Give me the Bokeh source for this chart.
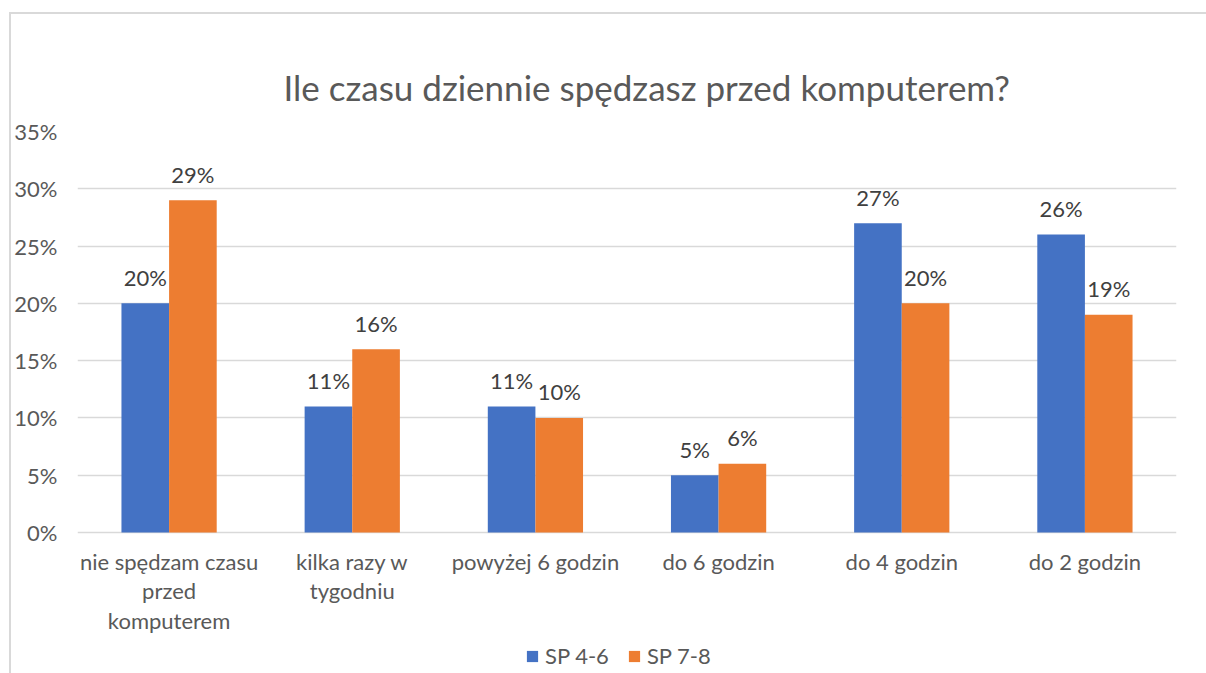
from bokeh.plotting import figure
from bokeh.models import ColumnDataSource, FactorRange, Range1d, FixedTicker, PrintfTickFormatter, LabelSet, Legend, LegendItem, InlineStyleSheet
from bokeh.core.properties import value
from bokeh.transform import dodge
from bokeh.embed import file_html
from bokeh.resources import INLINE

categories = ["nie spędzam czasu\nprzed\nkomputerem", "kilka razy w\ntygodniu", "powyżej 6 godzin",
              "do 6 godzin", "do 4 godzin", "do 2 godzin"]
sp46 = [20, 11, 11, 5, 27, 26]
sp78 = [29, 16, 10, 6, 20, 19]
series_names = ["SP 4-6", "SP 7-8"]
y_ticks = [0, 5, 10, 15, 20, 25, 30, 35]

FONT = "Lato"
BLUE = "#4472C4"
ORANGE = "#ED7D31"

src = ColumnDataSource(dict(
    cat=categories, a=sp46, b=sp78,
    a_lbl=[f"{v}%" for v in sp46], b_lbl=[f"{v}%" for v in sp78],
    lbl_y=[0] * len(categories),
))

# frame extends below the zero line so that category labels and legend live inside it
PX_PER_UNIT = 401 / 35.0
y_bottom = -542 / PX_PER_UNIT + 35

p = figure(x_range=FactorRange(*categories), y_range=Range1d(y_bottom, 35),
           frame_width=1099, frame_height=542, output_backend="svg", toolbar_location=None,
           min_border_left=77, min_border_right=14, min_border_top=131, min_border_bottom=0,
           title="Ile czasu dziennie spędzasz przed komputerem?")
p.outline_line_color = None
p.stylesheets = [InlineStyleSheet(css=(
    ":host::after { content: ''; position: absolute; left: 9px; top: 12px; "
    "right: -40px; bottom: -40px; border-left: 2px solid #d9d9d9; "
    "border-top: 2px solid #d9d9d9; pointer-events: none; z-index: 5; }"
))]

p.title.text_font = FONT
p.title.text_font_size = "35px"
p.title.text_font_style = "normal"
p.title.text_color = "#595959"
p.title.align = "left"
p.title.offset = 206
p.title.standoff = 48

r1 = p.vbar(x=dodge("cat", -0.13, range=p.x_range), top="a", width=0.26, source=src,
            fill_color=BLUE, line_color=None)
r2 = p.vbar(x=dodge("cat", 0.13, range=p.x_range), top="b", width=0.26, source=src,
            fill_color=ORANGE, line_color=None)

for col, off in (("a", -0.13), ("b", 0.13)):
    ls = LabelSet(x=dodge("cat", off, range=p.x_range), y=col, text=col + "_lbl", source=src,
                  text_align="center", text_baseline="middle", y_offset=26,
                  text_font=value(FONT), text_font_size="22px", text_color="#404040")
    p.add_layout(ls)

# category labels under the zero line
p.text(x="cat", y="lbl_y", text="cat", source=src, y_offset=15,
       text_align="center", text_baseline="top", text_font=value(FONT),
       text_font_size="22px", text_color="#595959", text_line_height=1.1)

p.xaxis.visible = False
p.xgrid.grid_line_color = None
p.ygrid.grid_line_color = "#d9d9d9"
p.ygrid.grid_line_width = 1.3
p.yaxis.ticker = FixedTicker(ticks=y_ticks)
p.yaxis.formatter = PrintfTickFormatter(format="%d%%")
p.yaxis.axis_line_color = None
p.yaxis.major_tick_line_color = None
p.yaxis.minor_tick_line_color = None
p.yaxis.major_label_standoff = 20
p.yaxis.major_label_text_font = FONT
p.yaxis.major_label_text_font_size = "22px"
p.yaxis.major_label_text_color = "#595959"
p.yaxis.major_tick_out = 0

legend = Legend(items=[LegendItem(label=series_names[0], renderers=[r1]),
                       LegendItem(label=series_names[1], renderers=[r2])],
                orientation="horizontal", location=(448, 4))
legend.label_text_font = FONT
legend.label_text_font_size = "22px"
legend.label_text_color = "#595959"
legend.glyph_width = 14
legend.glyph_height = 14
legend.label_standoff = 6
legend.spacing = 18
legend.padding = 2
legend.border_line_color = None
legend.background_fill_alpha = 0
legend.margin = 0
p.add_layout(legend, "center")

open("out.html", "w").write(file_html(p, INLINE))
